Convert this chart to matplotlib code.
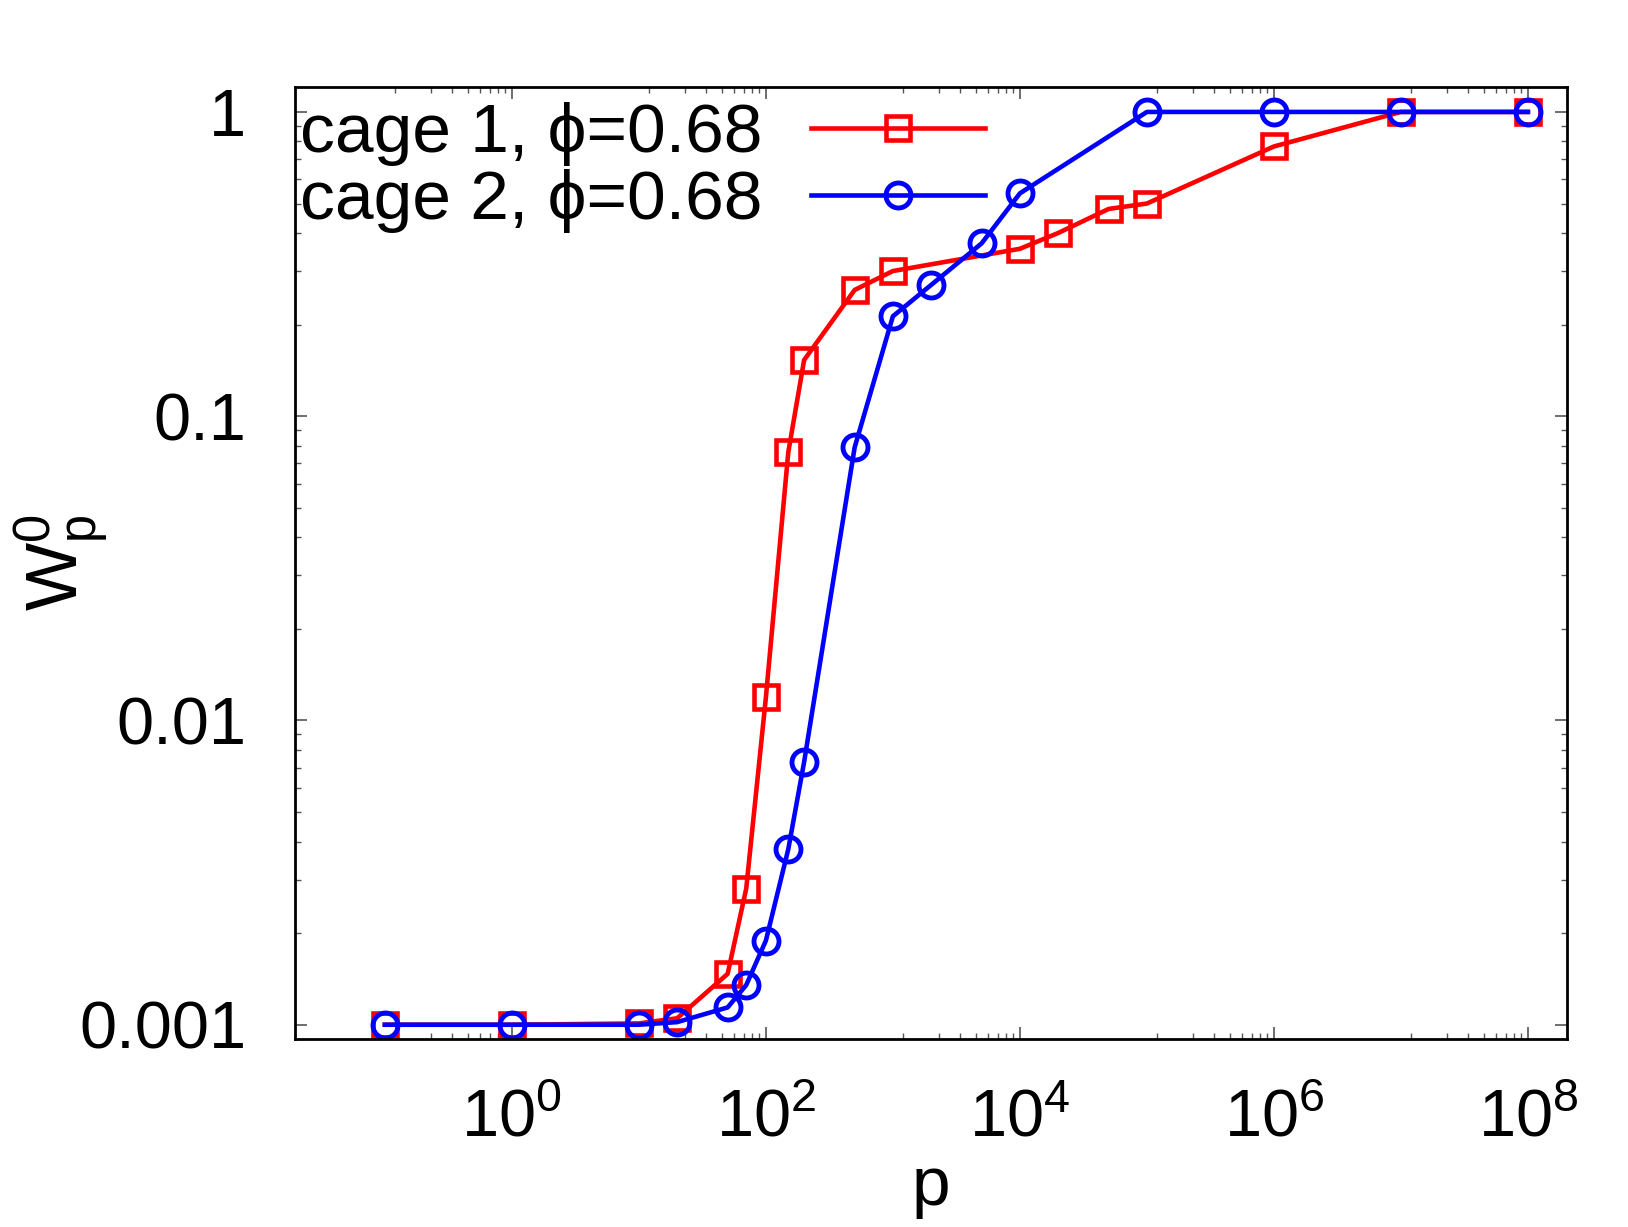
import numpy as np
import matplotlib
matplotlib.use("Agg")
import matplotlib.pyplot as plt
from matplotlib.ticker import FixedLocator, NullFormatter

plt.rcParams["font.family"] = ["Liberation Sans", "DejaVu Sans"]
plt.rcParams["mathtext.default"] = "regular"

# ── data ────────────────────────────────────────────────────────────
p_cage1 = [0.1, 1, 10, 20, 50, 70, 100, 150, 200, 500, 1000,
           1e4, 2e4, 5e4, 1e5, 1e6, 1e7, 1e8]
w_cage1 = [0.001, 0.001, 0.00101, 0.00105, 0.00147, 0.0028, 0.0119, 0.076,
           0.153, 0.26, 0.30, 0.355, 0.40, 0.48, 0.50, 0.77, 1.0, 1.0]

p_cage2 = [0.1, 1, 10, 20, 50, 70, 100, 150, 200, 500, 1000,
           2000, 5000, 1e4, 1e5, 1e6, 1e7, 1e8]
w_cage2 = [0.001, 0.001, 0.001, 0.00102, 0.00114, 0.00135, 0.00189, 0.00377,
           0.0073, 0.079, 0.213, 0.27, 0.37, 0.54, 1.0, 1.0, 1.0, 1.0]

labels = ["cage 1, \u03d5=0.68", "cage 2, \u03d5=0.68"]
x_major = [1, 1e2, 1e4, 1e6, 1e8]
x_ticklabels = ["$10^{0}$", "$10^{2}$", "$10^{4}$", "$10^{6}$", "$10^{8}$"]
y_major = [0.001, 0.01, 0.1, 1]
y_ticklabels = ["0.001", "0.01", "0.1", "1"]

FS = 48

fig = plt.figure(figsize=(16.28, 12.27), dpi=100)
ax = fig.add_axes([0.1812, 0.1535, 0.7813, 0.7758])

ax.plot(p_cage1, w_cage1, color="#ff0000", lw=3.3, marker="s", ms=17,
        mfc="none", mec="#ff0000", mew=3.3, label=labels[0])
ax.plot(p_cage2, w_cage2, color="#0000ff", lw=3.3, marker="o", ms=18,
        mfc="none", mec="#0000ff", mew=3.5, label=labels[1])

ax.set_xscale("log")
ax.set_yscale("log")
ax.set_xlim(0.0196, 2.03e8)
ax.set_ylim(0.0009, 1.21)

# gnuplot-style minor tics: 8 linear steps inside each 2-decade interval
x_minor = []
for lo in [1e-2] + x_major:
    hi = lo * 100
    x_minor += [lo + j * (hi - lo) / 9 for j in range(1, 9)]
ax.xaxis.set_major_locator(FixedLocator(x_major))
ax.xaxis.set_minor_locator(FixedLocator(x_minor))
ax.set_xticks(x_major, x_ticklabels)
ax.xaxis.set_minor_formatter(NullFormatter())

y_minor = [m * 10.0 ** e for e in range(-4, 1) for m in range(2, 10)]
ax.yaxis.set_major_locator(FixedLocator(y_major))
ax.yaxis.set_minor_locator(FixedLocator(y_minor))
ax.set_yticks(y_major, y_ticklabels)
ax.yaxis.set_minor_formatter(NullFormatter())

ax.tick_params(which="both", direction="in", top=True, right=True,
               color="#555555", labelsize=FS)
ax.tick_params(which="major", length=8.5, width=1.2)
ax.tick_params(which="minor", length=4.3, width=1.0)
ax.tick_params(axis="y", which="major", pad=35)
ax.tick_params(axis="x", which="major", pad=36)

for spine in ax.spines.values():
    spine.set_linewidth(2.0)

ax.set_xlabel("p", fontsize=50, labelpad=3)
ax.set_ylabel("$W_{p}^{0}$", fontsize=52)
ax.yaxis.set_label_coords(-0.145, 0.5)

ax.legend(loc="upper left", bbox_to_anchor=(0.004, 0.984), frameon=False,
          fontsize=50, markerfirst=False, handlelength=2.5,
          handletextpad=0.7, labelspacing=0.05, borderaxespad=0.0,
          borderpad=0.0)

fig.savefig("out.png", dpi=100)
